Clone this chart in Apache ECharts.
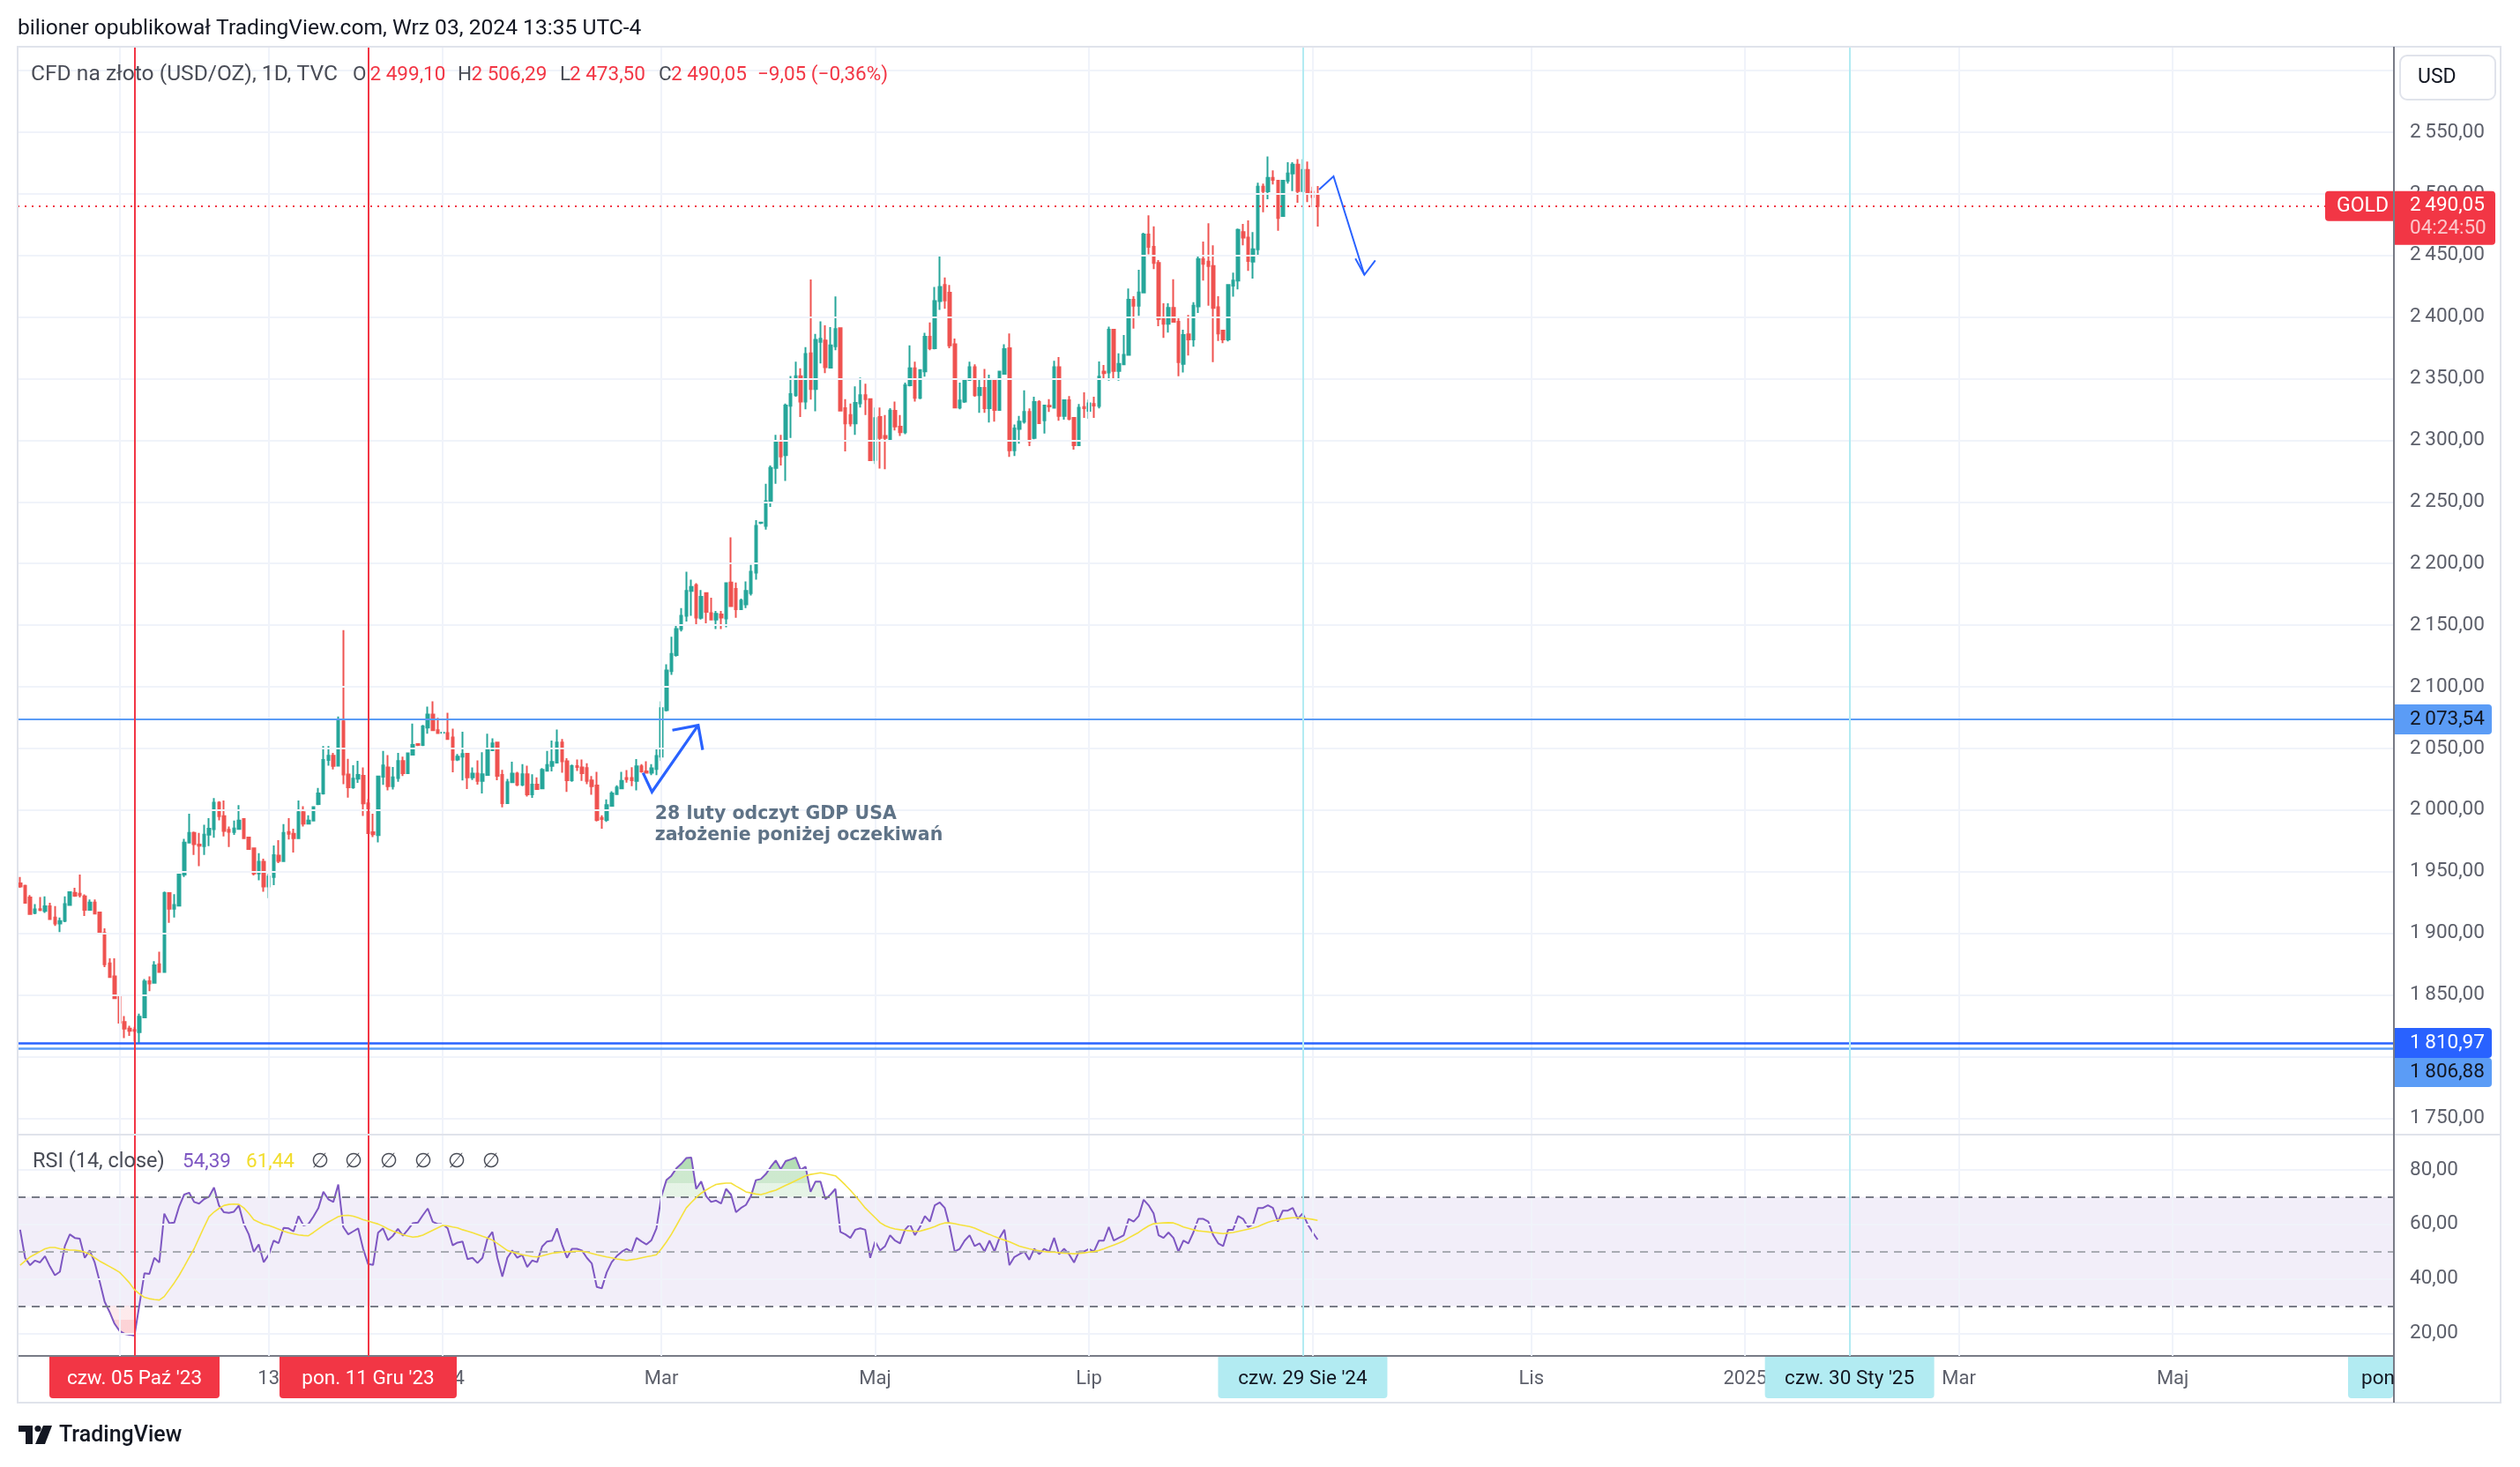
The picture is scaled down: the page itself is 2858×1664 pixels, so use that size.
<!DOCTYPE html>
<html><head><meta charset="utf-8">
<script src="https://cdn.jsdelivr.net/npm/echarts@6/dist/echarts.min.js"></script>
<style>html,body{margin:0;padding:0;background:#fff;}#c{width:2858px;height:1664px;}</style>
</head><body><div id="c"></div>
<script>
// ---------------- DATA ----------------
const startDate = '2023-09-04';
const barCount = 478;

const opens = [
1940.4,1938.5,1929,1916.6,1919.6,1918.2,1921.8,1912.7,1908,1910,
1923,1932.8,1932,1930,1919,1925,1916.8,1900.3,1875.5,1865,
1849.5,1828,1822.7,1821.5,1819.7,1831.8,1861,1859.8,1874.8,1868.6,
1932.6,1920,1922.5,1947.6,1973.5,1981.5,1972,1970.7,1980,1984.4,
2006,1995,1983.9,1982.2,1984.6,1992.7,1977.7,1969,1948.6,1958,
1938,1945.7,1963,1958.6,1982.2,1980.8,1977.2,1998.2,1989,1991.5,
2004.9,2013.5,2040.7,2044,2036,2072,2028.8,2018.5,2025.4,2027.8,
2005.4,1982,1979.6,2027,2034.5,2019.4,2026,2039.7,2030,2045,
2053.5,2052.8,2067,2077.4,2064.8,2062.6,2062.4,2058.8,2041,2043.3,
2045.7,2026.6,2029.5,2023.7,2028.5,2048.6,2054.8,2028.5,2005.6,2022.5,
2029.5,2020.6,2029,2012.7,2020.6,2017.5,2031.8,2035.8,2038.5,2054.8,
2039.6,2024.2,2035.6,2034.5,2034,2024,2019.9,1993.6,1992,2003.5,
2013,2017.5,2026,2026,2023.7,2035.4,2031.4,2030.2,2033.3,2043.3,
2081,2112.7,2125.7,2146.8,2157.7,2177.8,2182.5,2156,2176,2159.8,
2154.6,2158.6,2155.5,2184.6,2179.4,2163,2167,2176,2192.7,2233,
2230.6,2249.8,2277.7,2298.8,2288,2328,2336.6,2352,2331.4,2370.7,
2341.6,2380,2381,2359,2376.4,2391,2326,2320.5,2313.7,2330,
2336.6,2333.5,2284,2319,2303.5,2300.4,2324,2311,2306.6,2344.7,
2358.4,2334.5,2356,2384,2374.8,2413,2426,2419.8,2378,2326.7,
2331.4,2349,2359.3,2336.6,2342.6,2326,2349.7,2324.7,2354,2374.8,
2292,2309.2,2315.1,2323,2302,2331.1,2316.3,2328,2326.4,2359.3,
2319.9,2332.5,2318.3,2296.1,2327,2324,2329.5,2327.8,2355.7,2355,
2389.8,2356.4,2361.6,2369.3,2414.1,2409.3,2420,2467,2457,2443.9,
2399.3,2394.5,2407.4,2396.2,2362,2386,2381.9,2408.8,2447,2445,
2441.5,2408,2389,2381.9,2425.5,2429.6,2469,2464.6,2445,2455,
2505.9,2502,2513,2510.7,2482,2510.7,2516.6,2523.8,2502.3,2519.5,
2501.8,2499.1];

const highs = [
1945.7,1939.5,1931,1923.7,1929.4,1930,1924.7,1922,1912.7,1930,
1934,1937,1947.6,1931.5,1927.5,1927.5,1917,1904,1879.6,1879.6,
1850.2,1832.8,1825,1824,1834.7,1862.8,1865,1877.4,1885,1933.8,
1932.8,1931.8,1947.6,1976.7,1997,1982.6,1981.5,1988,1993.4,2009.7,
2007.2,2007.7,1986.7,1991.5,2004,1993.4,1978.4,1969,1965,1960.6,
1948.4,1971.2,1975.5,1988.6,1993.4,1984.8,2007.7,2003,1995.8,2003,
2018,2051.9,2052,2046.4,2075.8,2146,2041.6,2036.4,2040,2034.5,
2008.9,1997,2027.8,2048,2044.5,2035,2046.4,2043.3,2046.8,2070.2,
2054.2,2069,2083.9,2088.2,2074.8,2063.3,2079,2066,2045.4,2063.6,
2046,2034.5,2040.2,2046.9,2062,2058.1,2055.2,2032.6,2025.3,2039.3,
2030.9,2037.3,2036,2029,2026.6,2034,2048,2056.3,2065.3,2057.6,
2042,2036.8,2041,2041,2038,2027.6,2031,1995.8,2008.6,2015.2,
2020,2031,2032.4,2034.7,2041.3,2037.3,2039.5,2037.3,2050.1,2088.2,
2118.3,2140.6,2150,2163.9,2193.3,2187,2184,2178.5,2176.5,2172.2,
2161.6,2161.6,2184.6,2221.2,2184.6,2171.6,2185.6,2198.9,2235.2,2234,
2264.7,2279.6,2304.4,2304.4,2329.8,2352.2,2363.9,2358.4,2375.7,2430.6,
2386.3,2396.5,2393.4,2391.9,2416.7,2391.2,2333.5,2329.8,2343.8,2350.9,
2345.9,2334,2326.7,2326.7,2320.5,2326,2331.4,2320.5,2346.9,2377,
2363.9,2357.7,2387.2,2395.6,2424.4,2449.2,2432.2,2426,2382.6,2346.9,
2350,2363.9,2361.6,2350.2,2358,2353.3,2350,2356.5,2377.9,2386.7,
2312.8,2319.9,2340.6,2325.9,2335.4,2332.5,2329,2333.5,2364.5,2367.6,
2333,2335.9,2318.5,2329.5,2339,2333,2335.4,2364,2361.2,2392.2,
2390.5,2370.7,2385.5,2423.2,2417,2438.4,2468.5,2482.5,2473.7,2446.3,
2411.2,2411.2,2430.8,2399.8,2389.8,2401.7,2412.2,2449.9,2461.3,2476.1,
2458.2,2417,2389.5,2426.5,2436,2471.8,2475.6,2478.5,2469,2509,
2508.3,2530.4,2519,2511,2511.2,2525.7,2525.7,2528.1,2528.1,2526.2,
2505.9,2506.29];

const lows = [
1937,1924,1915,1915.5,1918,1916.6,1911,1906,1901,1909,
1922.5,1929.5,1929,1914,1918.5,1915.5,1899,1872.6,1864,1846.6,
1827.2,1815,1816.8,1812,1810.8,1831.5,1853,1859.3,1868.4,1868.4,
1908.5,1912.7,1922.3,1945.7,1973,1963.6,1954.5,1963.6,1970.7,1977.5,
1991.6,1978.6,1970,1979.8,1984,1976.8,1968.4,1947,1943,1933.7,
1928.5,1939,1957,1958,1976,1965.5,1976.8,1986.7,1988.5,1991,
2004,2012.6,2036,2033,2035.3,2021,2010,2017.3,2022,1995.3,
1981,1978,1973.7,2020.5,2016,2016.6,2023,2027.6,2029.3,2044.7,
2052,2052,2061.9,2064.5,2062.2,2062.4,2057.2,2030.6,2039.7,2024,
2017,2024.4,2020.6,2013.5,2027.8,2048.1,2024.2,2002.2,2005.2,2022,
2019.4,2019.4,2011,2009.9,2016.5,2017,2031.4,2031.4,2038,2030.2,
2014.7,2023,2031.7,2023.7,2021,2012.3,1990.8,1984.8,1990.3,2003,
2012.3,2017,2022.2,2019.4,2016,2030.2,2029.5,2028.3,2028.3,2040,
2080,2109.6,2124.5,2145,2153,2157.7,2150,2154.6,2151.5,2154.5,
2146.8,2146.8,2148.3,2165,2156,2162.3,2163.9,2174,2187,2232,
2227.5,2246,2264.7,2279.6,2267,2301.9,2335.4,2319,2325.2,2333,
2323.6,2362.4,2354.6,2358.4,2373.2,2323.6,2291,2311.2,2304.4,2326.7,
2320.5,2283.3,2280.8,2277,2276.5,2300,2308,2303.5,2305,2343.8,
2331.4,2333.5,2351.6,2373.2,2373.9,2405.8,2406.7,2374.8,2326.1,2325.2,
2330.4,2348.4,2335.4,2322.3,2322.3,2314.4,2315.1,2324,2353.3,2286.5,
2287.2,2297.3,2313.5,2295.4,2300.8,2313.5,2305.6,2323,2325.9,2315.9,
2316.8,2316.3,2292.5,2295.4,2318.2,2317.5,2318.2,2325.9,2349.7,2348.5,
2350.2,2348.5,2361,2368.8,2390.7,2401,2419.4,2451,2439,2392.6,
2383.1,2387.4,2395.5,2352.1,2355,2368.8,2376,2403.4,2429.6,2409.3,
2363.5,2380.7,2378.8,2380.2,2416.5,2422.4,2458.2,2437.5,2431.3,2449.9,
2485.1,2495.6,2507.6,2470.1,2482,2508.3,2502.3,2492.8,2502,2493.3,
2489.2,2473.5];

const closes = [
1938,1924.7,1915.6,1919.4,1918.8,1921.8,1911.6,1908,1909.9,1923.7,
1933.3,1930.4,1931,1919,1925,1916,1900,1874.8,1864.5,1847.3,
1827.5,1822.7,1820.8,1820.8,1832.3,1860.9,1859.3,1874,1868.6,1932.6,
1920,1923,1947.6,1973.6,1981.5,1972.4,1971,1980,1984.8,2006,
1995,1983,1982.4,1985,1991.5,1977.2,1968.4,1948.6,1958,1938,
1946,1963.4,1958.8,1981.5,1980.8,1977.2,1998.2,1989,1991.5,2002.3,
2013.5,2040.7,2044,2035.9,2072.2,2028.8,2018.5,2025.4,2028.5,2005.4,
1981.2,1980.3,2027.2,2036.2,2019.4,2026.6,2039.7,2030,2046,2052.8,
2052.8,2067.9,2077.4,2064.8,2062.4,2062.9,2057.6,2040.9,2043.3,2045.5,
2026.6,2029.5,2023.7,2029,2048.8,2054,2027.8,2005.6,2022.5,2029.5,
2020.6,2029,2012.7,2020.6,2017,2032.6,2036.6,2039,2054.8,2039.6,
2024.2,2035.6,2034.9,2030,2023.7,2019.4,1992,1992.7,2004,2013.5,
2018.2,2023.7,2025,2024.2,2035.4,2031.4,2030.2,2033.8,2043.8,2082.7,
2113.3,2126.6,2146.8,2157.7,2177.8,2181,2156.1,2173,2160.8,2154.6,
2159.2,2156.1,2184,2165.4,2163,2170,2177.8,2193.3,2230.6,2233.2,
2250.7,2277.7,2298.2,2287,2328.3,2337.6,2352.1,2331.4,2370.1,2341.6,
2381.6,2382.5,2359.3,2377,2390.3,2324.2,2313.7,2313.7,2330.4,2336.6,
2333.5,2283.9,2318,2302,2302,2324.2,2311.2,2306.6,2344.7,2358.4,
2334.5,2357.1,2384,2374.8,2413,2424.4,2413.6,2377,2326.7,2332.3,
2349,2359.3,2336.6,2342.6,2326.1,2349,2324.7,2355.7,2374,2292,
2309.7,2315.1,2323,2299.2,2331.1,2314,2328.3,2327.6,2359.3,2319.9,
2332.5,2317.5,2296.1,2326.4,2326,2330,2328.3,2351.6,2354.5,2389.8,
2356.4,2362.1,2369.3,2414.1,2409.3,2420,2467,2457,2443.9,2398.6,
2394.5,2407.4,2396.2,2363.5,2385.5,2381.9,2409.3,2447,2443.2,2441.5,
2407.4,2386.7,2381.9,2426,2429.6,2470.8,2464.6,2445.6,2455,2505.9,
2502.3,2513,2511.4,2480.4,2510.7,2516.6,2523.8,2502.3,2519.5,2501.1,
2497.5,2490.05];

const rsiValues = [
58,47.7,45,46.7,46,48.3,44.5,41.3,42.6,52,
56.3,55,54.7,47.7,50.4,46,39,31.6,27.8,23.5,
20.9,19.8,19.5,19.1,30.5,42,41.8,47.7,46,63.9,
60.4,60.6,66.6,70.9,71.6,68.2,67.6,69.2,70.1,73.5,
66.9,64.4,64.2,64.6,66.9,60.1,56.3,49.9,52.6,46.1,
48.8,54,53.1,58.7,58.5,57.4,63,59.6,60.1,62.8,
66,71.9,69.2,68.2,74.6,59,56.3,57.4,58.5,51,
45.4,45.1,56.9,58.5,54.2,55.8,58.3,55.8,58,60.4,
60.6,63.3,65.8,60.9,60.1,60.1,58.5,52.3,53.3,53.7,
47.2,47.7,45.8,47.7,54.7,57.2,47.7,40.8,47.7,50.4,
47.7,48.8,44.3,46.7,46.1,51.8,53.7,54,58.5,52.6,
47.7,51,51,50.4,47.7,45.6,37,36.5,42.4,46.1,
48.3,49.9,51,49.9,55,53.7,52.6,54.2,58.5,70.3,
76.2,77.8,80.5,82.2,84.3,84.5,73,75.7,70.3,68.2,
68.7,67.6,73,70.9,64.4,66,67.1,70.3,76.2,76.6,
78.4,81.1,83.4,80.2,83.2,83.8,84.5,80,81.1,71.9,
75.7,75.7,69.2,70.9,73,57.2,56.3,55,58,58.5,
58,47.7,53.7,50.4,52,56,54,53,58,60,
56,59,63,61,67,68,66,59,50,51,
54,56,52,53,50,54,50,55,58,45,
48,49,50,47,51,49,51,50,55,49,
51,49,46,50,50,51,50,54,54,59,
54,55,56,62,61,63,69,67,64,56,
55,57,55,50,54,53,57,62,62,61,
56,53,52,58,58,63,62,59,60,66,
66,67,66,61,65,65,66,62,64,60,
57,54.39];

const rsiMaValues = [
45,46.5,48,49,50,51,51.5,51.5,51,50.8,
50.5,50.5,50.3,49.8,49,47.7,46.5,45.5,44.5,43.5,
42.4,40.5,38.5,36,34.5,33.2,32.7,32.4,32.2,33.5,
36,38.5,41.3,44.5,47.8,51,55,59,62.8,64.5,
65.8,66.9,67.3,67.4,67.3,66,64,61.7,60.8,60,
59.6,58.9,58.2,57.5,56.9,56.5,56.1,55.9,55.8,57,
58.3,59.6,60.8,61.8,62.8,63.2,63.3,63,62.4,61.7,
61.2,60.6,60.1,59.3,58.3,57.5,56.9,56.2,55.7,55.3,
55.5,56,56.9,57.8,58.7,59.6,59.4,59,58.7,58,
57.5,56.9,56.3,55.6,55,54.2,53,51.7,50.4,49.8,
49.3,48.8,48.5,48.2,48,48.4,48.9,49.4,49.6,49.8,
49.9,50,50.1,50.1,49.8,49.3,48.8,48.4,48,47.7,
47.3,47,46.7,47,47.3,47.7,48.1,48.4,48.8,51,
53.5,56.3,59.5,62.8,66,68,69.8,71.4,72.6,73.7,
74.6,74.9,75.1,75.1,74,73,71.9,71.5,71.1,70.9,
71.4,72,72.5,73.4,74.3,75.1,76,76.9,77.8,78.3,
78.6,78.9,78.6,78.2,77.8,76.2,74.4,72.5,70.4,68.2,
66,64.2,62.4,60.6,59.5,58.8,58.3,58,57.8,57.6,
57.4,57.5,58,58.5,59.2,60,60.5,60.5,60.2,59.8,
59.5,59.2,58.6,57.8,57,56.3,55.5,54.8,54.2,53.6,
52.8,52,51.5,51,50.6,50.3,50,49.8,49.8,49.6,
49.4,49.3,49.2,49.3,49.5,49.8,50,50.4,51,51.7,
52.4,53.1,53.9,55,56,57,58.3,59.4,60.2,60.4,
60.5,60.6,60.5,59.8,59,58.5,58,57.6,57.4,57.2,
57,56.8,56.6,56.8,57,57.4,57.8,58.2,58.6,59.2,
60,60.7,61.3,61.6,61.9,62.2,62.4,62.4,62.3,62.1,
61.8,61.44];

const priceTicks = [1750,1800,1850,1900,1950,2000,2050,2100,2150,2200,2250,2300,2350,2400,2450,2500,2550,2600];
const rsiTicks = [20,40,60,80];
const rsiLevels = [70,50,30];
const timeLabelDates = ['2023-10-02','2023-11-13','2024-01-01','2024-03-01','2024-05-01','2024-07-01','2024-09-02','2024-11-01','2025-01-01','2025-03-03','2025-05-01'];
const timeLabelTexts = ['Paź','13','2024','Mar','Maj','Lip','Wrz','Lis','2025','Mar','Maj'];
const redMarkDates = ['2023-10-05','2023-12-11'];
const redMarkTexts = ["czw. 05 Paź '23","pon. 11 Gru '23"];
const cyanMarkDates = ['2024-08-29','2025-01-30'];
const cyanMarkTexts = ["czw. 29 Sie '24","czw. 30 Sty '25"];
const levelSupport = 2073.54;
const levelLow1 = 1810.97;
const levelLow2 = 1806.88;
const lastPrice = 2490.05;
const countdown = '04:24:50';
const symbolTag = 'GOLD';
const headerText = 'bilioner opublikował TradingView.com, Wrz 03, 2024 13:35 UTC-4';
const legendTitle = 'CFD na złoto (USD/OZ), 1D, TVC';
const legendOHLC = ['2 499,10','2 506,29','2 473,50','2 490,05'];
const legendChange = '−9,05 (−0,36%)';
const rsiTitle = 'RSI (14, close)';
const rsiLast = '54,39';
const rsiMaLast = '61,44';
const noteLines = ['28 luty odczyt GDP USA','założenie poniżej oczekiwań'];
// hand drawn annotations in data space: [bar index, price]
const arrowGdp = {path:[[125.3,2030.2],[127.1,2014.7],[136.4,2068.8]], head:[[131.2,2064.8],[136.4,2068.8],[137.3,2048.8]]};
const arrowNext = {path:[[261.3,2503.5],[264.2,2514.2],[270.4,2434.3]], head:[[268.6,2447.5],[270.4,2434.3],[272.6,2446]]};
const noteAnchor = [127.7, 2004.9];

// ---------------- LAYOUT ----------------
const FONT = 'Roboto, "Noto Sans", sans-serif';
const L = 20, R = 2715, PT = 53, PB = 1287, RB = 1538, FB = 1591, FR = 2836;
const TXT = '#5d606b';

function buildDates(start, n){
  const out=[]; const d=new Date(start+'T00:00:00Z');
  while(out.length<n){ const wd=d.getUTCDay(); if(wd!==0&&wd!==6) out.push(d.toISOString().slice(0,10)); d.setUTCDate(d.getUTCDate()+1); }
  return out;
}
const dates = buildDates(startDate, barCount);
const candleData = opens.map((o,i)=>[o, closes[i], lows[i], highs[i]]);
const labelMap = new Map(timeLabelDates.map((d,i)=>[d,timeLabelTexts[i]]));
function fmtNum(v){ const s=v.toFixed(2).split('.'); return s[0].replace(/\B(?=(\d{3})+(?!\d))/g,'\u2009')+','+s[1]; }
const nulls = dates.map(()=>null);

const chart = echarts.init(document.getElementById('c'), null, {renderer:'canvas', width:2858, height:1664});

const drawings = [
  {kind:'arrow', d:arrowGdp, w:3.2},
  {kind:'arrow', d:arrowNext, w:2},
  {kind:'text', at:noteAnchor, text:noteLines.join('\n')}
];

const option = {
  animation:false,
  backgroundColor:'#ffffff',
  textStyle:{fontFamily:FONT},
  grid:[
    {left:L, top:PT, width:R-L, height:PB-PT, outerBoundsMode:'none', containLabel:false},
    {left:L, top:PB, width:R-L, height:RB-PB, outerBoundsMode:'none', containLabel:false}
  ],
  xAxis:[
    {type:'category', gridIndex:0, data:dates, boundaryGap:true, axisLine:{show:false}, axisTick:{show:false}, axisLabel:{show:false}, splitLine:{show:false}},
    {type:'category', gridIndex:1, data:dates, boundaryGap:true,
     axisLine:{show:true, lineStyle:{color:'#787b86', width:2}}, axisTick:{show:false}, splitLine:{show:false},
     axisLabel:{show:true, interval:(idx,val)=>labelMap.has(val), formatter:(val)=>labelMap.get(val)||'', color:TXT, fontSize:22, fontFamily:FONT, margin:15, hideOverlap:false}}
  ],
  yAxis:[
    {type:'value', gridIndex:0, position:'right', min:1736.6, max:2619.4, axisLine:{show:false}, axisTick:{show:false}, splitLine:{show:false},
     axisLabel:{customValues:priceTicks, formatter:(v)=>fmtNum(v), color:TXT, fontSize:22.5, fontFamily:FONT, margin:18, align:'left', showMinLabel:true, showMaxLabel:true}},
    {type:'value', gridIndex:1, position:'right', min:11.7, max:92.9, axisLine:{show:false}, axisTick:{show:false}, splitLine:{show:false},
     axisLabel:{customValues:rsiTicks, formatter:(v)=>fmtNum(v), color:TXT, fontSize:22.5, fontFamily:FONT, margin:18, align:'left', showMinLabel:true, showMaxLabel:true}}
  ],
  visualMap:[{type:'piecewise', show:false, seriesIndex:5, dimension:1, pieces:[
    {gt:80, color:'rgba(76,175,80,0.42)'},
    {gt:75, lte:80, color:'rgba(76,175,80,0.28)'},
    {gt:70, lte:75, color:'rgba(76,175,80,0.14)'},
    {gte:30, lte:70, color:'rgba(255,255,255,0)'},
    {gte:25, lt:30, color:'rgba(242,54,69,0.10)'},
    {gte:20, lt:25, color:'rgba(242,54,69,0.22)'},
    {lt:20, color:'rgba(242,54,69,0.35)'}
  ]}],
  series:[
    // 0 price grid
    {type:'line', xAxisIndex:0, yAxisIndex:0, data:nulls, silent:true, z:1, symbol:'none',
     markLine:{silent:true, symbol:['none','none'], label:{show:false}, animation:false,
       lineStyle:{color:'#f0f3fa', width:2, type:'solid'},
       data:[...priceTicks.map(v=>({yAxis:v})), ...timeLabelDates.map(d=>({xAxis:d}))]}},
    // 1 candles
    {type:'candlestick', xAxisIndex:0, yAxisIndex:0, data:candleData, barWidth:3, z:3,
     itemStyle:{color:'#26a69a', color0:'#ef5350', borderColor:'#26a69a', borderColor0:'#ef5350', borderWidth:2}},
    // 2 overlay levels
    {type:'line', xAxisIndex:0, yAxisIndex:0, data:nulls, silent:true, z:4, symbol:'none',
     markLine:{silent:true, symbol:['none','none'], label:{show:false}, animation:false, data:[
       {yAxis:levelSupport, lineStyle:{color:'#5b9cf6', width:2, type:'solid'}},
       {yAxis:levelLow2, lineStyle:{color:'#5b9cf6', width:2.5, type:'solid'}},
       {yAxis:levelLow1, lineStyle:{color:'#2962ff', width:2.5, type:'solid'}},
       {yAxis:lastPrice, lineStyle:{color:'#f23645', width:2, type:[2,6]}},
       ...redMarkDates.map(d=>({xAxis:d, lineStyle:{color:'#f23645', width:2, type:'solid'}})),
       ...cyanMarkDates.map(d=>({xAxis:d, lineStyle:{color:'#b2ebf2', width:2, type:'solid'}}))
     ]}},
    // 3 drawings
    {type:'custom', xAxisIndex:0, yAxisIndex:0, coordinateSystem:'cartesian2d', silent:true, z:6, clip:false,
     data:drawings.map((d,k)=>[k, 2000]),
     renderItem:function(params, api){
       const dr = drawings[params.dataIndex];
       const bw = api.size([1,0])[0];
       const P = pt => { const b=Math.floor(pt[0]); const c=api.coord([b, pt[1]]); return [c[0]+(pt[0]-b)*bw, c[1]]; };
       if(dr.kind==='arrow'){
         const st = {stroke:'#2962ff', lineWidth:dr.w, fill:null, lineJoin:'miter', lineCap:'butt'};
         return {type:'group', children:[
           {type:'polyline', shape:{points:dr.d.path.map(P)}, style:st},
           {type:'polyline', shape:{points:dr.d.head.map(P)}, style:st}
         ]};
       }
       const p = P(dr.at);
       return {type:'text', x:p[0], y:p[1], style:{text:dr.text, fill:'#5f7387', font:'bold 20.5px "DejaVu Sans"', textAlign:'left', textVerticalAlign:'top', align:'left', verticalAlign:'top', lineHeight:24}};
     }},
    // 4 rsi grid + band
    {type:'line', xAxisIndex:1, yAxisIndex:1, data:nulls, silent:true, z:1, symbol:'none',
     markLine:{silent:true, symbol:['none','none'], label:{show:false}, animation:false,
       lineStyle:{color:'#f0f3fa', width:2, type:'solid'},
       data:[...rsiTicks.map(v=>({yAxis:v})), ...timeLabelDates.map(d=>({xAxis:d}))]},
     markArea:{silent:true, itemStyle:{color:'rgba(126,87,194,0.10)'}, data:[[{yAxis:30},{yAxis:70}]]}},
    // 5 rsi overbought/oversold fill
    {type:'line', xAxisIndex:1, yAxisIndex:1, data:rsiValues, silent:true, z:2, symbol:'none', showSymbol:false,
     lineStyle:{width:0, opacity:0}, areaStyle:{origin:70, opacity:1}},
    // 6 rsi
    {type:'line', xAxisIndex:1, yAxisIndex:1, data:rsiValues, silent:true, z:4, symbol:'none', showSymbol:false,
     lineStyle:{color:'#7e57c2', width:2}},
    // 7 rsi ma
    {type:'line', xAxisIndex:1, yAxisIndex:1, data:rsiMaValues, silent:true, z:5, symbol:'none', showSymbol:false, smooth:false,
     lineStyle:{color:'#f5e13c', width:1.6}},
    // 8 rsi overlay lines
    {type:'line', xAxisIndex:1, yAxisIndex:1, data:nulls, silent:true, z:3, symbol:'none',
     markLine:{silent:true, symbol:['none','none'], label:{show:false}, animation:false, data:[
       {yAxis:rsiLevels[0], lineStyle:{color:'#787b86', width:2, type:[9,7]}},
       {yAxis:rsiLevels[1], lineStyle:{color:'#a9abb3', width:2, type:[9,7]}},
       {yAxis:rsiLevels[2], lineStyle:{color:'#787b86', width:2, type:[9,7]}},
       ...redMarkDates.map(d=>({xAxis:d, lineStyle:{color:'#f23645', width:2, type:'solid'}})),
       ...cyanMarkDates.map(d=>({xAxis:d, lineStyle:{color:'#b2ebf2', width:2, type:'solid'}}))
     ]}}
  ]
};
chart.setOption(option);

// ---------------- decorations (positions from the library's scales) ----------------
const yP = v => chart.convertToPixel({yAxisIndex:0}, v);
const xP = d => chart.convertToPixel({xAxisIndex:1}, d);
const g = [];
const Z = 100;
function txt(x,y,text,fill,size,extra){ g.push(Object.assign({type:'text', z:Z+2, silent:true, style:Object.assign({x:x, y:y, text:text, fill:fill, font:(size||22)+'px '+FONT, textAlign:'left', textVerticalAlign:'middle', align:'left', verticalAlign:'middle'}, extra||{})})); }
function rect(x,y,w,h,fill,r,stroke){ g.push({type:'rect', z:Z+1, silent:true, shape:{x:x,y:y,width:w,height:h,r:r||0}, style:{fill:fill, stroke:stroke||null, lineWidth:stroke?2:0}}); }
function line(x1,y1,x2,y2,c,w){ g.push({type:'line', z:Z, silent:true, shape:{x1:x1,y1:y1,x2:x2,y2:y2}, style:{stroke:c, lineWidth:w}}); }

// frame
g.push({type:'rect', z:Z, silent:true, shape:{x:L, y:PT, width:FR-L, height:FB-PT}, style:{fill:null, stroke:'#e0e3eb', lineWidth:2}});
line(L, PB, FR, PB, '#e0e3eb', 2);
line(R, PT, R, FB, '#787b86', 2);

// header + legends
txt(20, 33, headerText, '#131722', 24.6);
txt(35, 85, legendTitle, '#4a4d57', 24.6);
const legX = [[400,419.5],[519,534.5],[635,646],[747,761]];
['O','H','L','C'].forEach((k,i)=>{ txt(legX[i][0], 85, k, '#4a4d57', 22.5); txt(legX[i][1], 85, legendOHLC[i], '#f23645', 22.5); });
txt(859, 85, legendChange, '#f23645', 22.5);
txt(37, 1318, rsiTitle, '#4a4d57', 23.5);
txt(207, 1318, rsiLast, '#7e57c2', 22.5);
txt(279, 1318, rsiMaLast, '#f2dd2c', 22.5);
[353,391,430.5,470,508,547].forEach(x=>txt(x, 1318, '∅', '#4a4d57', 22.5));

// USD box
rect(2722, 63, 108, 50, '#ffffff', 8, '#e0e3eb');
txt(2742, 88, 'USD', '#131722', 23);

// price labels on axis
const yl = yP(lastPrice);
rect(2637, yl-17, 77, 34, '#f23645', [4,0,0,4]);
txt(2650, yl, symbolTag, '#ffffff', 23);
rect(R+1, yl-17, 114, 61, '#f23645', [0,4,4,0]);
txt(2733, yl, fmtNum(lastPrice), '#ffffff', 22.5);
txt(2733, yl+26, countdown, 'rgba(255,255,255,0.72)', 22.5);
const ys = yP(levelSupport);
rect(R+1, ys-17, 110, 34, '#5b9cf6', [0,4,4,0]);
txt(2733, ys, fmtNum(levelSupport), '#131722', 22.5);
const y1 = yP(levelLow1);
rect(R+1, y1-17, 110, 34, '#2962ff', [0,4,4,0]);
txt(2733, y1, fmtNum(levelLow1), '#ffffff', 22.5);
rect(R+1, y1+17, 110, 33, '#5b9cf6', [0,4,4,0]);
txt(2733, y1+33.5, fmtNum(levelLow2), '#131722', 22.5);

// time axis highlight labels
const tY = 1564;
redMarkDates.forEach((d,i)=>{ const x=xP(d); const w=(i===0?193:201); rect(x-w/2, RB+1, w, 47, '#f23645', [0,0,4,4]); txt(x, tY, redMarkTexts[i], '#ffffff', 22.5, {textAlign:'center', align:'center'}); });
cyanMarkDates.forEach((d,i)=>{ const x=xP(d); rect(x-96, RB+1, 192, 47, '#b2ebf2', [0,0,4,4]); txt(x, tY, cyanMarkTexts[i], '#131722', 22.5, {textAlign:'center', align:'center'}); });
rect(2663, RB+1, R-2663-1, 47, '#b2ebf2', [0,0,4,4]);
txt(2678, tY, 'pon', '#131722', 22.5);

// TradingView logo
g.push({type:'rect', z:Z, silent:true, shape:{x:21,y:1617,width:16,height:7}, style:{fill:'#131722'}});
g.push({type:'rect', z:Z, silent:true, shape:{x:29,y:1617,width:8,height:21}, style:{fill:'#131722'}});
g.push({type:'circle', z:Z, silent:true, shape:{cx:43,cy:1620.5,r:3.6}, style:{fill:'#131722'}});
g.push({type:'polygon', z:Z, silent:true, shape:{points:[[49,1617],[59,1617],[51,1638],[40,1638]]}, style:{fill:'#131722'}});
txt(67, 1629, 'TradingView', '#131722', 25, {font:'500 25px '+FONT});

chart.setOption({graphic:{elements:g}});
</script>
</body></html>
